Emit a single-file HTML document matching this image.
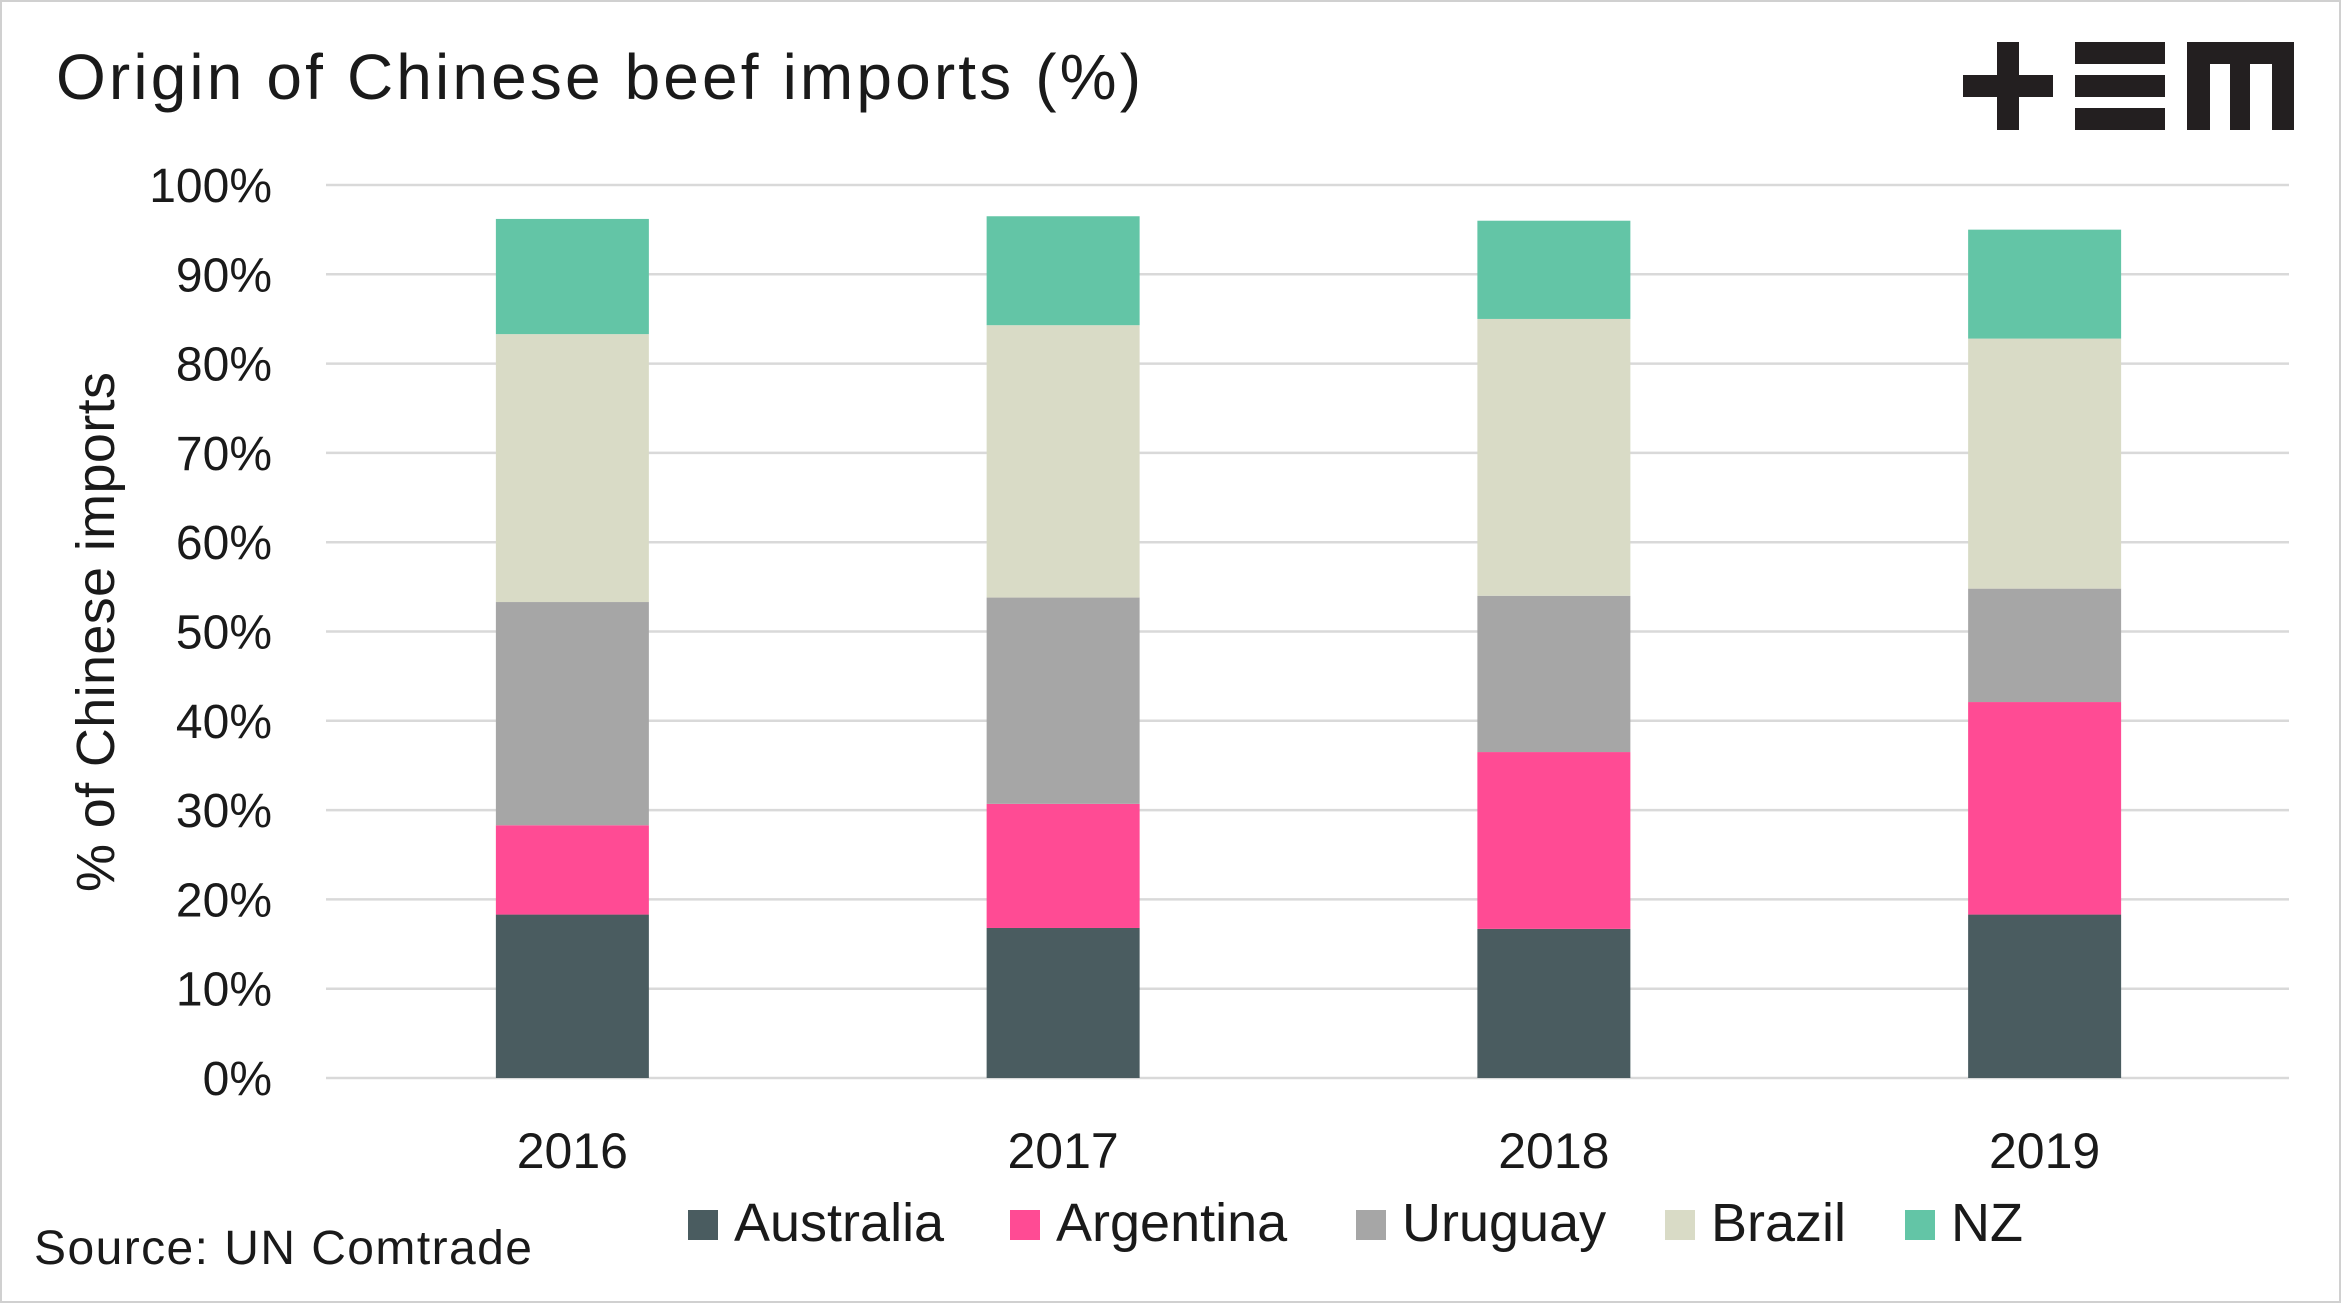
<!DOCTYPE html>
<html><head><meta charset="utf-8"><style>
html,body{margin:0;padding:0;background:#fff;}
svg{display:block;font-family:"Liberation Sans",sans-serif;}
</style></head><body>
<svg id="chart" width="2341" height="1303" viewBox="0 0 2341 1303">
<rect x="1" y="1" width="2339" height="1301" fill="#fff" stroke="#d0d0d0" stroke-width="2"/>
<text x="56" y="99" font-size="64" textLength="1085" lengthAdjust="spacing" fill="#1a1a1a">Origin of Chinese beef imports (%)</text>
<g fill="#231f20">
<rect x="1997" y="42" width="22" height="88"/><rect x="1963" y="75" width="90" height="22"/>
<rect x="2075" y="42" width="90" height="22"/><rect x="2075" y="75" width="90" height="22"/><rect x="2075" y="108" width="90" height="22"/>
<rect x="2187" y="42" width="107" height="22"/><rect x="2187" y="42" width="23" height="88"/><rect x="2230" y="42" width="20" height="88"/><rect x="2272" y="42" width="22" height="88"/>
</g>
<g id="grid"></g><g id="bars"></g><g id="xlabels"></g>
<text transform="translate(114,632) rotate(-90)" text-anchor="middle" font-size="54" textLength="520" lengthAdjust="spacing" fill="#1a1a1a">% of Chinese imports</text>
<g id="legend"></g>
<text x="34" y="1264" font-size="48" textLength="498" lengthAdjust="spacing" fill="#1a1a1a">Source: UN Comtrade</text>
</svg>
<script>
const years = ["2016","2017","2018","2019"];
const seriesNames = ["Australia","Argentina","Uruguay","Brazil","NZ"];
const australia = [18.3, 16.8, 16.7, 18.3];
const argentina = [10.0, 13.9, 19.8, 23.8];
const uruguay = [25.0, 23.1, 17.5, 12.7];
const brazil = [30.0, 30.5, 31.0, 28.0];
const nz = [12.9, 12.2, 11.0, 12.2];
const yTicks = [0,10,20,30,40,50,60,70,80,90,100];

const colors = ["#4a5c60","#ff4b94","#a6a6a6","#d9dbc6","#63c5a6"];
const series = [australia, argentina, uruguay, brazil, nz];
const NS = "http://www.w3.org/2000/svg";
const x0 = 326, x1 = 2289, yBase = 1078, yTop = 185;
const y = v => yBase - (v/100)*(yBase - yTop);
const band = (x1 - x0)/years.length;
const xc = i => x0 + band*(i+0.5) + 1;
const bw = 153;
function mk(tag, attrs, parent){const e=document.createElementNS(NS,tag);for(const k in attrs)e.setAttribute(k,attrs[k]);parent.appendChild(e);return e;}
const grid=document.getElementById('grid');
yTicks.forEach(t=>{
  const l=mk('line',{x1:x0,x2:x1,y1:y(t),y2:y(t),stroke:'#d9d9d9','stroke-width':2.5},grid);
  
  
  const tx=mk('text',{x:272,y:y(t)+17,'text-anchor':'end','font-size':48,fill:'#1a1a1a'},grid);
  tx.textContent=t+'%';
  
  
});
const bars=document.getElementById('bars');
years.forEach((yr,i)=>{
  let cum=0;
  series.forEach((s,j)=>{
    const r=mk('rect',{x:xc(i)-bw/2,y:y(cum+s[i]),width:bw,height:y(cum)-y(cum+s[i]),fill:colors[j]},bars);
    
    
    cum+=s[i];
  });
  const t=mk('text',{x:xc(i),y:1168,'text-anchor':'middle','font-size':50,fill:'#1a1a1a'},document.getElementById('xlabels'));
  t.textContent=yr;
  
  
});
const legend=document.getElementById('legend');
const lx=[688,1010,1356,1665,1905];
seriesNames.forEach((n,j)=>{
  const g=mk('g',{},legend);
  
  
  mk('rect',{x:lx[j],y:1210,width:30,height:30,fill:colors[j]},g);
  const t=mk('text',{x:lx[j]+46,y:1241,'font-size':54,fill:'#1a1a1a'},g);
  t.textContent=n;
});
</script>
</body></html>
